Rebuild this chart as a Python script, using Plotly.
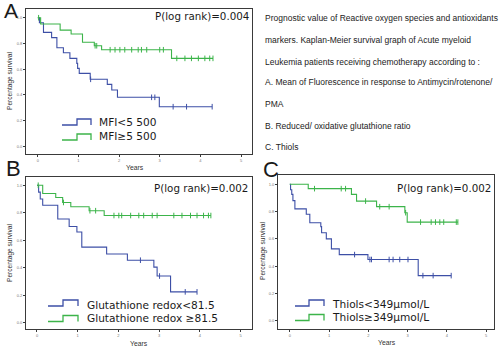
import bisect
import plotly.graph_objects as go

W, H = 500, 347

BLUE = "#3d4fa6"
GREEN = "#3cb44a"
FRAME = "#3a3a3a"

# ---- Panel A: mean fluorescence (MFI) ----
a_lo_t = [0, 0.04, 0.14, 0.34, 0.47, 0.63, 0.79, 0.96, 0.98, 1.02, 1.29, 1.71, 1.82, 1.96, 2.99, 4.29]
a_lo_s = [1.0, 0.961, 0.886, 0.845, 0.767, 0.728, 0.684, 0.645, 0.606, 0.567, 0.521, 0.482, 0.438, 0.381, 0.308, 0.308]
a_lo_c = [1.30, 2.80, 2.88, 3.33, 3.66, 4.29]
a_hi_t = [0, 0.07, 0.55, 0.82, 1.10, 1.39, 1.57, 3.29, 4.31]
a_hi_s = [1.0, 0.951, 0.904, 0.873, 0.809, 0.782, 0.751, 0.684, 0.684]
a_hi_c = [0.02, 1.41, 1.45, 1.78, 1.90, 2.02, 2.14, 2.31, 2.47, 2.55, 2.68, 3.00, 3.09,
          3.42, 3.62, 3.78, 3.95, 4.11, 4.23, 4.31]

# ---- Panel B: glutathione redox ratio ----
b_lo_t = [0, 0.04, 0.08, 0.14, 0.51, 0.79, 0.98, 1.10, 1.71, 2.22, 2.87, 2.95, 3.28, 3.93]
b_lo_s = [1.0, 0.95, 0.90, 0.855, 0.755, 0.70, 0.66, 0.55, 0.50, 0.455, 0.405, 0.34, 0.225, 0.225]
b_lo_c = [2.54, 3.01, 3.64, 3.93]
b_hi_t = [0, 0.14, 0.46, 0.63, 0.83, 1.28, 1.65, 4.27]
b_hi_s = [1.0, 0.94, 0.911, 0.875, 0.844, 0.815, 0.78, 0.78]
b_hi_c = [0.03, 0.65, 1.30, 1.44, 1.89, 2.01, 2.08, 2.30, 2.50, 2.62, 2.83, 2.95,
          3.36, 3.56, 3.77, 3.93, 4.09, 4.21, 4.27]

# ---- Panel C: thiols ----
c_lo_t = [0, 0.02, 0.05, 0.08, 0.13, 0.42, 0.51, 0.79, 0.81, 0.93, 1.06, 1.26, 1.99, 3.27, 4.11]
c_lo_s = [1.0, 0.96, 0.926, 0.88, 0.82, 0.78, 0.718, 0.69, 0.645, 0.60, 0.527, 0.485, 0.449, 0.331, 0.331]
c_lo_c = [1.65, 2.04, 2.08, 2.53, 2.63, 2.80, 3.01, 3.39, 3.65, 4.11]
c_hi_t = [0, 0.47, 1.57, 1.70, 2.21, 2.93, 2.99, 4.28]
c_hi_s = [1.0, 0.968, 0.926, 0.877, 0.836, 0.792, 0.723, 0.723]
c_hi_c = [0.63, 1.31, 1.42, 1.93, 2.29, 2.53, 2.95, 3.33, 3.60, 3.71, 3.82, 3.92, 4.24, 4.28]

x_ticks = [0, 1, 2, 3, 4, 5]
y_ticks = [0.0, 0.2, 0.4, 0.6, 0.8, 1.0]
y_tick_text = ["0.0", "0.2", "0.4", "0.6", "0.8", "1.0"]

p_values = ["P(log rank)=0.004", "P(log rank)=0.002", "P(log rank)=0.002"]
legend_lo = ["MFI<5 500", "Glutathione redox<81.5", "Thiols<349µmol/L"]
legend_hi = ["MFI≥5 500", "Glutathione redox ≥81.5", "Thiols≥349µmol/L"]

caption_lines = [
    "Prognostic value of Reactive oxygen species and antioxidants",
    "markers. Kaplan-Meier survival graph of Acute myeloid",
    "Leukemia patients receiving chemotherapy according to :",
    "A. Mean of Fluorescence in response to Antimycin/rotenone/",
    "PMA",
    "B. Reduced/ oxidative glutathione ratio",
    "C. Thiols",
]


def px(x):
    return x / W


def py(y):
    return 1 - y / H


def surv_at(times, surv, t):
    i = bisect.bisect_right(times, t) - 1
    return surv[max(i, 0)]


# panel boxes in pixels: left, top, right, bottom ; axis ranges
panels = [
    dict(box=(26, 9, 252, 154), xr=(-0.29, 5.27), yr=(-0.06, 1.068),
         curves=[(a_lo_t, a_lo_s, a_lo_c, BLUE), (a_hi_t, a_hi_s, a_hi_c, GREEN)]),
    dict(box=(26, 177, 252, 329), xr=(-0.27, 5.28), yr=(-0.045, 1.06),
         curves=[(b_lo_t, b_lo_s, b_lo_c, BLUE), (b_hi_t, b_hi_s, b_hi_c, GREEN)]),
    dict(box=(278, 175, 494, 329), xr=(-0.3, 5.2), yr=(-0.06, 1.068),
         curves=[(c_lo_t, c_lo_s, c_lo_c, BLUE), (c_hi_t, c_hi_s, c_hi_c, GREEN)]),
]

fig = go.Figure()
layout_axes = {}

for k, p in enumerate(panels):
    n = "" if k == 0 else str(k + 1)
    xa, ya = "x" + n, "y" + n
    l, t, r, b = p["box"]
    for times, surv, cens, col in p["curves"]:
        fig.add_trace(go.Scatter(
            x=times, y=surv, xaxis=xa, yaxis=ya, mode="lines",
            line=dict(color=col, width=1.1, shape="hv"), showlegend=False,
            hoverinfo="skip"))
        fig.add_trace(go.Scatter(
            x=cens, y=[surv_at(times, surv, c) for c in cens], xaxis=xa, yaxis=ya,
            mode="markers", showlegend=False, hoverinfo="skip",
            marker=dict(symbol="line-ns", size=4, line=dict(color=col, width=1))))
    common = dict(showline=True, mirror=True, linecolor=FRAME, linewidth=1,
                  ticks="outside", ticklen=2, tickwidth=0.6, tickcolor=FRAME,
                  showgrid=False, zeroline=False, fixedrange=True,
                  tickfont=dict(size=4, color="#777", family="Liberation Sans, Arial"))
    layout_axes["xaxis" + n] = dict(common, domain=[px(l), px(r)], range=list(p["xr"]),
                                     anchor=ya, tickvals=x_ticks)
    layout_axes["yaxis" + n] = dict(common, domain=[py(b), py(t)], range=list(p["yr"]),
                                     anchor=xa, tickvals=y_ticks, ticktext=y_tick_text)

annotations = []
shapes = []


def text(x, y, s, size, xanchor="left", font="DejaVu Sans, Verdana", color="#1a1a1a",
         angle=0):
    annotations.append(dict(x=px(x), y=py(y), xref="paper", yref="paper", text=s,
                            showarrow=False, xanchor=xanchor, yanchor="middle",
                            textangle=angle,
                            font=dict(size=size, family=font, color=color)))


# panel letters
text(11, 10.5, "A", 21, "center", font="Liberation Sans, Arial")
text(13, 168, "B", 22, "center", font="Liberation Sans, Arial")
text(271, 170, "C", 22, "center", font="Liberation Sans, Arial")

# p values
text(251, 16, p_values[0], 10.3, "right")
text(250, 188, p_values[1], 10.3, "right")
text(493, 188, p_values[2], 10.3, "right")

# axis titles
for (x, y) in [(10, 81), (10, 253), (263, 251)]:
    text(x, y, "Percentage survival", 6.6, "center", font="Liberation Sans, Arial",
         color="#333", angle=-90)
for (x, y) in [(135, 167), (139, 343), (387, 342)]:
    text(x, y, "Years", 6.8, "center", font="Liberation Sans, Arial", color="#333")

# legends: step glyph + label
legend_pos = [
    # x0, xmid, x1, text x, (y low, y high, text y) for each entry
    (62, 77, 91, 97, (125, 119, 122), (140, 134, 136)),
    (48, 63, 78, 85, (306, 300, 305), (321.5, 315.5, 318)),
    (295, 309, 324, 330, (306, 300, 304), (320.5, 314.5, 317)),
]
for k, (x0, xm, x1, tx, e1, e2) in enumerate(legend_pos):
    for (ylo, yhi, ytxt), col, lab in [(e1, BLUE, legend_lo[k]), (e2, GREEN, legend_hi[k])]:
        path = "M{},{} L{},{} L{},{} L{},{} L{},{}".format(
            px(x0), py(ylo), px(xm), py(ylo), px(xm), py(yhi), px(x1), py(yhi),
            px(x1), py(ylo))
        shapes.append(dict(type="path", xref="paper", yref="paper", path=path,
                           line=dict(color=col, width=1.3)))
        text(tx, ytxt, lab, 10.6)

# caption
cap_y = [18, 40, 61.5, 82, 103.5, 126, 147]
for s, y in zip(caption_lines, cap_y):
    text(263, y, s, 8.5, font="Liberation Sans, Arial", color="#222")

fig.update_layout(
    width=W, height=H, margin=dict(l=0, r=0, t=0, b=0),
    paper_bgcolor="white", plot_bgcolor="white",
    showlegend=False, annotations=annotations, shapes=shapes, **layout_axes)

fig.write_html("out.html")
